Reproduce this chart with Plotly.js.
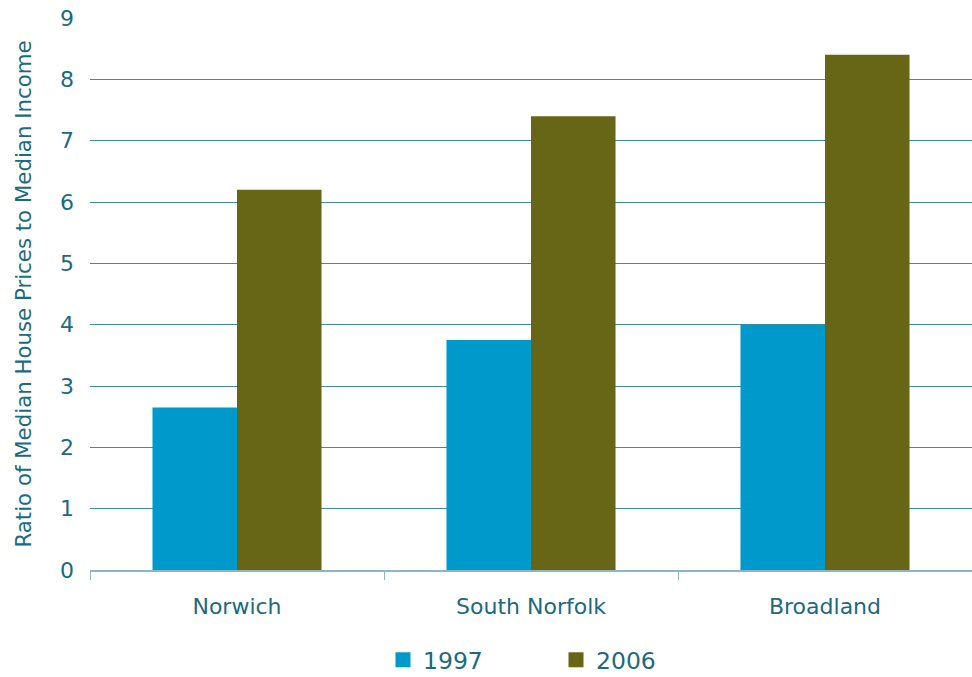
<!DOCTYPE html>
<html>
<head>
<meta charset="utf-8">
<script src="https://cdn.plot.ly/plotly-3.0.1.min.js"></script>
<style>html,body{margin:0;padding:0;background:#fff;}#chart{width:972px;height:677px;}</style>
</head>
<body>
<div id="chart"></div>
<script>
var categories = ["Norwich", "South Norfolk", "Broadland"];
var seriesNames = ["1997", "2006"];
var series1997 = [2.65, 3.75, 4.0];
var series2006 = [6.2, 7.4, 8.4];
var yTicks = [0, 1, 2, 3, 4, 5, 6, 7, 8, 9];

var colors = ["#0099cc", "#666616"];
var textColor = "#1a6a80";
var fontFam = "DejaVu Sans, Verdana, sans-serif";

var data = [
  {type: "bar", name: seriesNames[0], x: categories, y: series1997, marker: {color: colors[0], line: {width: 0}}, showlegend: false},
  {type: "bar", name: seriesNames[1], x: categories, y: series2006, marker: {color: colors[1], line: {width: 0}}, showlegend: false},
  {type: "scatter", mode: "markers", name: seriesNames[0], x: [null], y: [null], marker: {symbol: "square", size: 15, color: colors[0]}, showlegend: true},
  {type: "scatter", mode: "markers", name: seriesNames[1], x: [null], y: [null], marker: {symbol: "square", size: 15, color: colors[1]}, showlegend: true}
];

var layout = {
  width: 972, height: 677,
  margin: {l: 90, r: 0, t: 18, b: 107},
  paper_bgcolor: "#fff", plot_bgcolor: "#fff",
  font: {family: fontFam, color: textColor, size: 22},
  barmode: "group",
  bargap: 0.425,
  bargroupgap: 0,
  showlegend: true,
  legend: {
    orientation: "h",
    xref: "container", yref: "container",
    x: 383/972, xanchor: "left",
    y: 17/677, yanchor: "middle",
    entrywidth: 128, entrywidthmode: "pixels",
    font: {size: 23.5, color: textColor, family: fontFam},
    itemwidth: 30
  },
  xaxis: {
    type: "category",
    categoryorder: "array", categoryarray: categories,
    showline: true, linecolor: "#8fb5c4", linewidth: 1.5,
    ticks: "outside", ticklen: 8, tickcolor: "#8fb5c4", tickwidth: 1,
    tickson: "boundaries",
    showgrid: false,
    tickfont: {size: 22, color: textColor},
    ticklabelstandoff: 16
  },
  yaxis: {
    range: [0, 9],
    tickvals: yTicks,
    ticktext: yTicks.map(String),
    showgrid: true, gridcolor: "#3f8c9c", gridwidth: 1,
    zeroline: false,
    showline: false,
    ticks: "",
    ticklabelstandoff: 15,
    tickfont: {size: 22, color: textColor},
    title: {text: "Ratio of Median House Prices to Median Income", font: {size: 21.3, color: textColor}, standoff: 22}
  }
};

Plotly.newPlot("chart", data, layout, {displayModeBar: false, staticPlot: true});
</script>
</body>
</html>
